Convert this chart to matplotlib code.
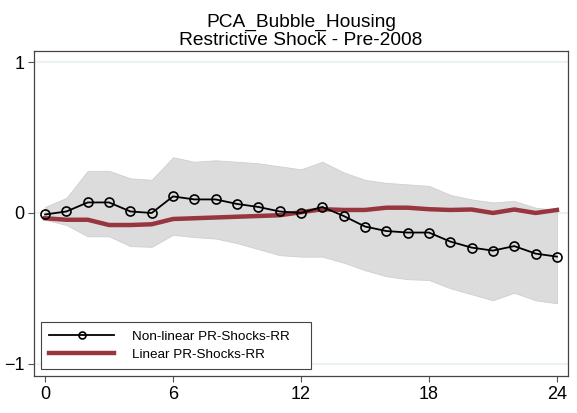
import numpy as np
import matplotlib.pyplot as plt

plt.rcParams['font.family'] = ['Liberation Sans', 'DejaVu Sans']

horizon = np.arange(25)
nonlinear = [-0.01, 0.01, 0.07, 0.07, 0.01, 0.0, 0.11, 0.09, 0.09, 0.06, 0.04, 0.01, 0.0,
             0.04, -0.02, -0.09, -0.12, -0.13, -0.13, -0.19, -0.23, -0.25, -0.22, -0.27, -0.29]
linear = [-0.035, -0.045, -0.045, -0.08, -0.08, -0.075, -0.04, -0.035, -0.03, -0.025, -0.02, -0.015, 0.005,
          0.025, 0.02, 0.02, 0.035, 0.035, 0.025, 0.02, 0.023, 0.0, 0.023, 0.0, 0.02]
band_upper = [0.04, 0.10, 0.28, 0.28, 0.23, 0.22, 0.37, 0.34, 0.35, 0.34, 0.33, 0.31, 0.29,
              0.34, 0.27, 0.22, 0.20, 0.19, 0.18, 0.12, 0.09, 0.07, 0.08, 0.035, 0.02]
band_lower = [-0.045, -0.08, -0.155, -0.155, -0.22, -0.225, -0.145, -0.16, -0.17, -0.20, -0.24, -0.28, -0.29,
              -0.29, -0.33, -0.38, -0.42, -0.44, -0.445, -0.50, -0.54, -0.58, -0.53, -0.58, -0.60]

fig = plt.figure(figsize=(5.77, 4.13), dpi=100)
ax = fig.add_axes([34 / 577, 1 - 376 / 413, 534 / 577, 325 / 413])

for y in [-1, 0, 1]:
    ax.axhline(y, color='#e8f0f2', lw=1.2, zorder=0)

ax.fill_between(horizon, band_lower, band_upper, color='#dcdcdc', edgecolor='#cfcfcf', lw=0.6, zorder=1)
ax.plot(horizon, nonlinear, color='black', lw=1.3, marker='o', markersize=6.5,
        markerfacecolor='none', markeredgecolor='black', markeredgewidth=1.2,
        label='Non-linear PR-Shocks-RR', zorder=3)
ax.plot(horizon, linear, color='#97363e', lw=3.2, label='Linear PR-Shocks-RR', zorder=2)

ax.set_xlim(-0.52, 24.52)
ax.set_ylim(-1.083, 1.076)
ax.set_xticks([0, 6, 12, 18, 24])
ax.set_yticks([-1, 0, 1])
ax.tick_params(direction='out', length=4, width=0.8, color='#555555', labelsize=13, pad=3)
for s in ax.spines.values():
    s.set_color('#444444')
    s.set_linewidth(0.9)

ax.set_title('PCA_Bubble_Housing\nRestrictive Shock - Pre-2008', fontsize=13.8, linespacing=1.08, pad=4)

leg = ax.legend(loc='lower left', bbox_to_anchor=(0.0125, 0.0206, 0.506, 0.15), mode='expand',
                borderaxespad=0, fontsize=9.7, handlelength=4.8, handletextpad=1.33,
                borderpad=0.65, labelspacing=0.4, fancybox=False, framealpha=1)
leg.get_frame().set_edgecolor('#444444')
leg.get_frame().set_linewidth(0.8)
leg.legend_handles[0].set_markevery([1])
leg.legend_handles[0].set_markersize(5)

fig.savefig('out.png', dpi=100)
print("[OK] Saved: out.png")
